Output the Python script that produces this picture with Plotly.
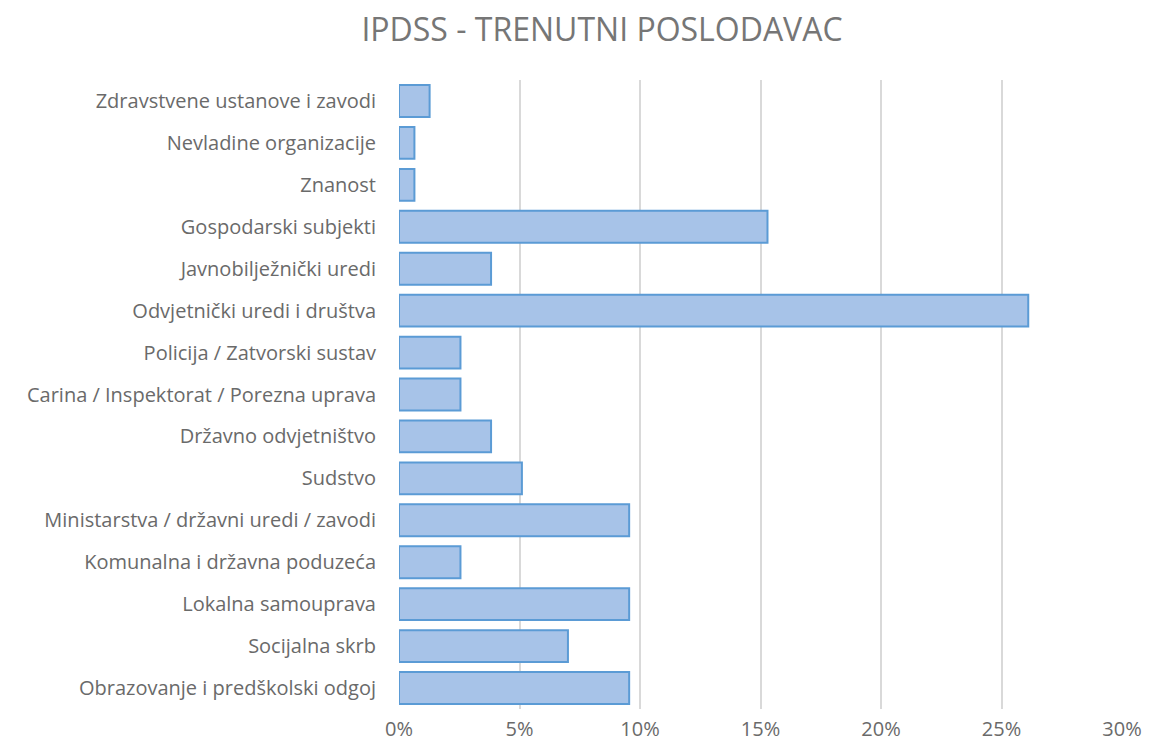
import plotly.graph_objects as go

categories = [
    "Zdravstvene ustanove i zavodi",
    "Nevladine organizacije",
    "Znanost",
    "Gospodarski subjekti",
    "Javnobilježnički uredi",
    "Odvjetnički uredi i društva",
    "Policija / Zatvorski sustav",
    "Carina / Inspektorat / Porezna uprava",
    "Državno odvjetništvo",
    "Sudstvo",
    "Ministarstva / državni uredi / zavodi",
    "Komunalna i državna poduzeća",
    "Lokalna samouprava",
    "Socijalna skrb",
    "Obrazovanje i predškolski odgoj",
]
values = [0.0127, 0.0064, 0.0064, 0.1529, 0.0382, 0.2611, 0.0255, 0.0255,
          0.0382, 0.0510, 0.0955, 0.0255, 0.0955, 0.0701, 0.0955]
tick_vals = [0, 0.05, 0.10, 0.15, 0.20, 0.25, 0.30]
tick_text = ["0%", "5%", "10%", "15%", "20%", "25%", "30%"]

fig = go.Figure(go.Bar(
    x=values, y=categories, orientation="h",
    marker=dict(color="#a7c3e8", line=dict(color="#5b9bd5", width=2)),
))
fig.update_layout(
    width=1150, height=749,
    paper_bgcolor="white", plot_bgcolor="white",
    margin=dict(l=391, r=36, t=72, b=48, autoexpand=False),
    bargap=0.24,
    showlegend=False,
    title=dict(text="IPDSS - TRENUTNI POSLODAVAC", x=594/1150, xanchor="center",
               xref="container", y=1 - 22/749, yanchor="middle",
               font=dict(family="Open Sans", size=32, color="#767676")),
    font=dict(family="Open Sans", size=20, color="#6a6a6a"),
)
fig.update_xaxes(range=[0, 0.30], tickvals=tick_vals, ticktext=tick_text,
                 showgrid=True, gridcolor="#d9d9d9", gridwidth=2,
                 zeroline=False, showline=False, ticks="",
                 ticklabelstandoff=6,
                 tickfont=dict(size=20, color="#6a6a6a"))
fig.update_yaxes(autorange="reversed", showgrid=False, showline=False, ticks="",
                 ticklabelstandoff=22, tickfont=dict(size=20, color="#6a6a6a"))
fig.write_html("out.html")
